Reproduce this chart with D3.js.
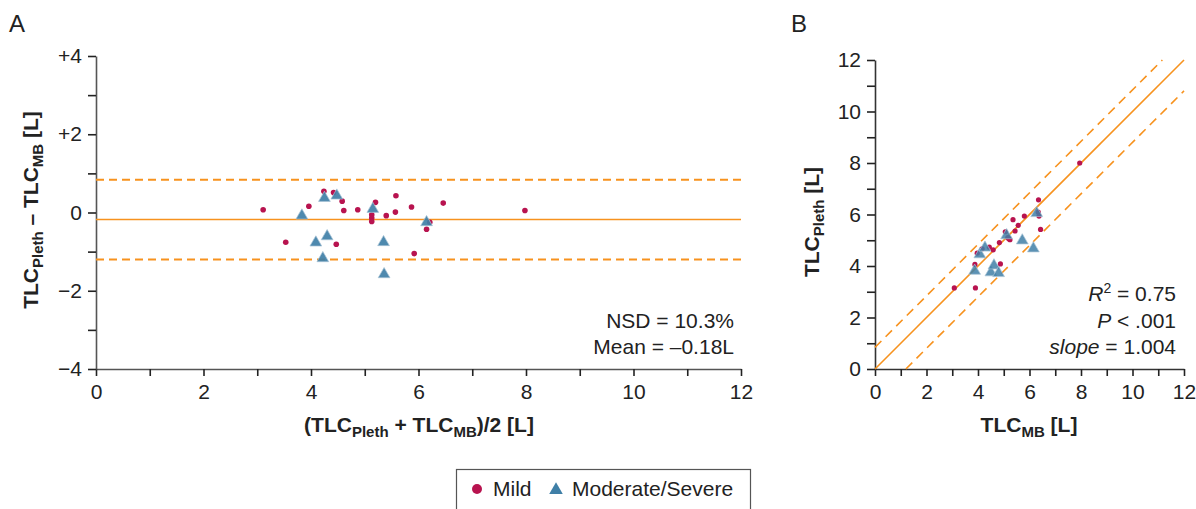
<!DOCTYPE html>
<html>
<head>
<meta charset="utf-8">
<script src="https://cdn.jsdelivr.net/npm/d3@7"></script>
<style>
  body { margin: 0; background: #fff; }
  text { font-family: "Liberation Sans", Arial, sans-serif; fill: #222; }
</style>
</head>
<body>
<script>
// Panel A: Bland-Altman (mean of the two methods, difference)
var mildMean   = [3.11, 3.53, 3.96, 4.24, 4.42, 4.58, 4.61, 4.47, 4.87, 5.20, 5.13, 5.13, 5.13, 5.40, 5.58, 5.57, 5.87, 5.92, 6.46, 6.21, 6.15, 7.98];
var mildDiff   = [0.07, -0.76, 0.16, 0.54, 0.51, 0.29, 0.05, -0.81, 0.07, 0.26, -0.06, -0.14, -0.23, -0.08, 0.43, 0.01, 0.14, -1.05, 0.24, -0.25, -0.43, 0.05];
var severeMean = [3.83, 4.25, 4.48, 4.09, 4.30, 4.22, 5.15, 5.35, 5.36, 6.15];
var severeDiff = [-0.08, 0.37, 0.43, -0.77, -0.61, -1.17, 0.09, -0.76, -1.58, -0.25];

// Panel B: TLC_MB vs TLC_Pleth
var mildMB      = [3.08, 3.90, 3.88, 3.97, 4.16, 4.44, 4.59, 4.87, 4.83, 5.06, 5.16, 5.20, 5.24, 5.44, 5.36, 5.56, 5.80, 6.43, 6.35, 6.34, 6.37, 7.95];
var mildPleth   = [3.15, 3.15, 4.06, 4.50, 4.67, 4.73, 4.63, 4.08, 4.91, 5.33, 5.10, 5.06, 5.02, 5.36, 5.80, 5.58, 5.94, 5.42, 6.57, 6.09, 5.94, 8.00];
var severeMB    = [3.87, 4.07, 4.27, 4.50, 4.62, 4.80, 5.11, 5.72, 6.15, 6.28];
var severePleth = [3.81, 4.45, 4.71, 3.75, 4.02, 3.72, 5.19, 4.99, 4.68, 6.05];

var meanBias = -0.18, upperLoA = 0.84, lowerLoA = -1.20;
var xTicks = [0, 2, 4, 6, 8, 10, 12];
var yTicksA = [-4, -2, 0, 2, 4];
var yLabelsA = ["\u22124", "\u22122", "0", "+2", "+4"];
var legendNames = ["Mild", "Moderate/Severe"];

function ready(fn) {
  if (document.readyState != 'loading'){
    fn();
  } else {
    document.addEventListener('DOMContentLoaded', fn);
  }
}

ready(init);

function init(){

var w = 1196, h = 509;
var cMild = "#b8134f", cSev = "#3f7fa7", cLine = "#f7921e";
var fs = "21px", fsSub = "15px";

var svg = d3.select("body").append("svg")
            .attr("width", w)
            .attr("height", h);

function zip(a, b){ return a.map((v,i)=>[v, b[i]]); }

function styleAxis(g){
  g.select(".domain").attr("stroke", "#555").attr("stroke-width", 1.6);
  g.selectAll(".tick line").attr("stroke", "#222").attr("stroke-width", 1.6);
  g.selectAll(".tick text").style("font-size", fs).attr("fill", "#333")
     .style("font-family", "'Liberation Sans', Arial, sans-serif");
}

// ---------- panel A ----------
var xA = d3.scaleLinear().domain([0,12]).range([96,741]);
var yA = d3.scaleLinear().domain([-4,4]).range([369,56]);

var axA = svg.append("g").attr("transform","translate(0,369)")
    .call(d3.axisBottom(xA).tickValues(d3.range(0,13,1)).tickSize(7).tickSizeOuter(0).tickPadding(8)
            .tickFormat(d => xTicks.indexOf(d) >= 0 ? d : ""));
styleAxis(axA);

var ayA = svg.append("g").attr("transform","translate(96,0)")
    .call(d3.axisLeft(yA).tickValues(d3.range(-4,5,1)).tickSize(8).tickSizeOuter(0).tickPadding(6)
            .tickFormat(d => { var k = yTicksA.indexOf(d); return k >= 0 ? yLabelsA[k] : ""; }));
styleAxis(ayA);

var refA = [[meanBias, null], [upperLoA, "8,5"], [lowerLoA, "8,5"]];
svg.append("g").selectAll("line")
   .data(refA).enter().append("line")
   .attr("x1", xA(0)).attr("x2", xA(12))
   .attr("y1", d => yA(d[0])).attr("y2", d => yA(d[0]))
   .attr("stroke", cLine)
   .attr("stroke-width", d => d[1] ? 2 : 1.5)
   .attr("stroke-dasharray", d => d[1]);

svg.append("g").selectAll("circle")
   .data(zip(mildMean, mildDiff)).enter().append("circle")
   .attr("cx", d => xA(d[0])).attr("cy", d => yA(d[1]))
   .attr("r", 2.8).attr("fill", cMild);

var tri = d3.symbol().type(d3.symbolTriangle).size(60);
svg.append("g").selectAll("path")
   .data(zip(severeMean, severeDiff)).enter().append("path")
   .attr("d", tri)
   .attr("transform", d => "translate(" + xA(d[0]) + "," + yA(d[1]) + ")")
   .attr("fill", cSev).attr("fill-opacity", 0.92)
   .attr("stroke", "#a8c3d6").attr("stroke-width", 0.7);

svg.append("text").attr("x", 734).attr("y", 328).attr("text-anchor","end")
   .style("font-size",fs).text("NSD = 10.3%");
svg.append("text").attr("x", 734).attr("y", 354).attr("text-anchor","end")
   .style("font-size",fs).text("Mean = \u20130.18L");

var tA = svg.append("text").attr("x", 419).attr("y", 432).attr("text-anchor","middle")
   .style("font-size",fs).style("font-weight","bold");
tA.append("tspan").text("(TLC");
tA.append("tspan").attr("dy", 5).style("font-size",fsSub).text("Pleth");
tA.append("tspan").attr("dy", -5).text(" + TLC");
tA.append("tspan").attr("dy", 5).style("font-size",fsSub).text("MB");
tA.append("tspan").attr("dy", -5).text(")/2 [L]");

var yTitA = svg.append("text").attr("transform","translate(38,210) rotate(-90)")
   .attr("text-anchor","middle").style("font-size",fs).style("font-weight","bold");
yTitA.append("tspan").text("TLC");
yTitA.append("tspan").attr("dy", 5).style("font-size",fsSub).text("Pleth");
yTitA.append("tspan").attr("dy", -5).text(" \u2013 TLC");
yTitA.append("tspan").attr("dy", 5).style("font-size",fsSub).text("MB");
yTitA.append("tspan").attr("dy", -5).text(" [L]");

svg.append("text").attr("x", 9).attr("y", 32).style("font-size","24px").text("A");

// ---------- panel B ----------
var xB = d3.scaleLinear().domain([0,12]).range([875,1184]);
var yB = d3.scaleLinear().domain([0,12]).range([369,60]);

var axB = svg.append("g").attr("transform","translate(0,369)")
    .call(d3.axisBottom(xB).tickValues(d3.range(0,13,1)).tickSize(7).tickSizeOuter(0).tickPadding(8)
            .tickFormat(d => xTicks.indexOf(d) >= 0 ? d : ""));
styleAxis(axB);

var ayB = svg.append("g").attr("transform","translate(875,0)")
    .call(d3.axisLeft(yB).tickValues(d3.range(0,13,1)).tickSize(8).tickSizeOuter(0).tickPadding(6)
            .tickFormat(d => xTicks.indexOf(d) >= 0 ? d : ""));
styleAxis(ayB);
axB.select(".domain").attr("stroke", "#333");
ayB.select(".domain").attr("stroke", "#333");

// identity and limits of agreement
var refB = [[0, null, 0, 12], [upperLoA, "9,6", 0, 12 - upperLoA], [lowerLoA, "9,6", -lowerLoA, 12]];
svg.append("g").selectAll("line")
   .data(refB).enter().append("line")
   .attr("x1", d => xB(d[2])).attr("y1", d => yB(d[2] + d[0]))
   .attr("x2", d => xB(d[3])).attr("y2", d => yB(d[3] + d[0]))
   .attr("stroke", cLine).attr("stroke-width", 1.6)
   .attr("stroke-dasharray", d => d[1]);

svg.append("g").selectAll("circle")
   .data(zip(mildMB, mildPleth)).enter().append("circle")
   .attr("cx", d => xB(d[0])).attr("cy", d => yB(d[1]))
   .attr("r", 2.6).attr("fill", cMild);

svg.append("g").selectAll("path")
   .data(zip(severeMB, severePleth)).enter().append("path")
   .attr("d", tri)
   .attr("transform", d => "translate(" + xB(d[0]) + "," + yB(d[1]) + ")")
   .attr("fill", cSev).attr("fill-opacity", 0.85)
   .attr("stroke", "#a8c3d6").attr("stroke-width", 0.7);

var r2 = svg.append("text").attr("x", 1176).attr("y", 301).attr("text-anchor","end").style("font-size",fs);
r2.append("tspan").style("font-style","italic").text("R");
r2.append("tspan").attr("dy", -8).style("font-size","14px").text("2");
r2.append("tspan").attr("dy", 8).text(" = 0.75");
var pv = svg.append("text").attr("x", 1176).attr("y", 328).attr("text-anchor","end").style("font-size",fs);
pv.append("tspan").style("font-style","italic").text("P");
pv.append("tspan").text(" < .001");
var sl = svg.append("text").attr("x", 1176).attr("y", 354).attr("text-anchor","end").style("font-size",fs);
sl.append("tspan").style("font-style","italic").text("slope");
sl.append("tspan").text(" = 1.004");

var tB = svg.append("text").attr("x", 1029).attr("y", 432).attr("text-anchor","middle")
   .style("font-size",fs).style("font-weight","bold");
tB.append("tspan").text("TLC");
tB.append("tspan").attr("dy", 5).style("font-size",fsSub).text("MB");
tB.append("tspan").attr("dy", -5).text(" [L]");

var yTitB = svg.append("text").attr("transform","translate(819,222) rotate(-90)")
   .attr("text-anchor","middle").style("font-size",fs).style("font-weight","bold");
yTitB.append("tspan").text("TLC");
yTitB.append("tspan").attr("dy", 5).style("font-size",fsSub).text("Pleth");
yTitB.append("tspan").attr("dy", -5).text(" [L]");

svg.append("text").attr("x", 791).attr("y", 32).style("font-size","24px").text("B");

// ---------- legend ----------
var leg = svg.append("g").attr("class","legend");
leg.append("rect").attr("x", 456.5).attr("y", 469.5).attr("width", 294).attr("height", 60)
   .attr("fill","none").attr("stroke","#555").attr("stroke-width",1.2);
leg.append("circle").attr("cx", 477).attr("cy", 489).attr("r", 5).attr("fill", cMild);
leg.append("text").attr("x", 493).attr("y", 496).style("font-size",fs).text(legendNames[0]);
leg.append("path").attr("d", d3.symbol().type(d3.symbolTriangle).size(80))
   .attr("transform","translate(556,490)").attr("fill", cSev);
leg.append("text").attr("x", 572).attr("y", 496).style("font-size",fs).text(legendNames[1]);

}//init
</script>
</body>
</html>
